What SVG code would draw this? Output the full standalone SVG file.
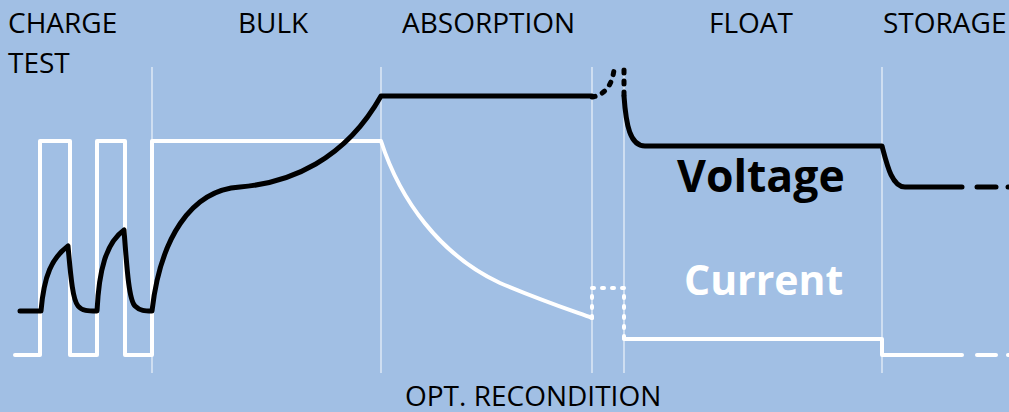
<svg xmlns="http://www.w3.org/2000/svg" width="1009" height="412" viewBox="0 0 1009 412">
<style>
.lbl{font-family:"Open Sans","Liberation Sans",sans-serif;font-size:28px;fill:#000}
.big{font-family:"Open Sans","Liberation Sans",sans-serif;font-weight:bold}
.sep{stroke:#ffffff;stroke-opacity:0.75;stroke-width:1.3;fill:none}
.v{stroke:#000;stroke-width:5;fill:none;stroke-linejoin:round;stroke-linecap:round}
.i{stroke:#fff;stroke-width:4;fill:none;stroke-linejoin:round;stroke-linecap:round}
</style>
<rect x="0" y="0" width="1009" height="412" fill="#A1BFE4"/>
<g id="separators">
<line class="sep" x1="152" y1="67" x2="152" y2="373"/>
<line class="sep" x1="381" y1="67" x2="381" y2="373"/>
<line class="sep" x1="592" y1="67" x2="592" y2="373"/>
<line class="sep" x1="624" y1="67" x2="624" y2="373"/>
<line class="sep" x1="882" y1="67" x2="882" y2="373"/>
</g>
<g id="labels">
<text class="lbl" x="8" y="33">CHARGE</text>
<text class="lbl" x="8" y="73">TEST</text>
<text class="lbl" x="238" y="33">BULK</text>
<text class="lbl" x="402" y="33">ABSORPTION</text>
<text class="lbl" x="709" y="33">FLOAT</text>
<text class="lbl" x="883" y="33">STORAGE</text>
<text class="lbl" x="405" y="406">OPT. RECONDITION</text>
</g>
<g id="current">
<path class="i" d="M15,355 H40 V141 H70 V355 H97 V141 H125 V355 H152 V141 H381 C400,200 440,255 500,283 C540,300 570,310 592,318"/>
<path class="i" d="M592,318 V288 H624 V339" stroke-dasharray="2 8"/>
<path class="i" d="M624,339 H882 V355 H962"/>
<line class="i" x1="977" y1="355" x2="996" y2="355"/>
<line class="i" x1="1008" y1="355" x2="1015" y2="355"/>
<text class="big" x="684" y="295" font-size="41" fill="#fff">Current</text>
</g>
<g id="voltage">
<path class="v" d="M20,311 H41 C44,275 52,258 68,246 C71,280 73,300 78,306 C82,311 88,311 97,311 C99,270 106,243 124,230 C127,270 129,300 135,306 C140,311 145,311 152,311 C160,240 190,190 240,187 C290,183 345,160 381,96 H592"/>
<path class="v" d="M592,97 C605,95 612,85 614,70" stroke-dasharray="3 8"/>
<path class="v" d="M624,70 V96" stroke-dasharray="3 8"/>
<path class="v" d="M624,96 C626,125 630,146 645,146 H882 C887,165 892,187 905,187 H962"/>
<line class="v" x1="977" y1="187" x2="996" y2="187"/>
<line class="v" x1="1008" y1="187" x2="1015" y2="187"/>
<text class="big" x="677" y="192" font-size="44.5" fill="#000">Voltage</text>
</g>
</svg>
